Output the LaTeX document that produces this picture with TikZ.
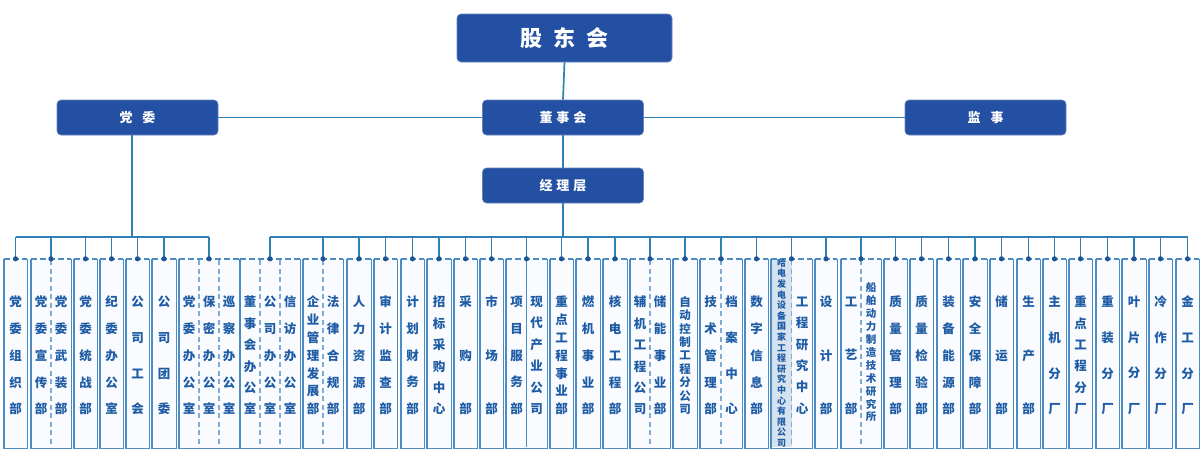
\documentclass[tikz,border=0pt]{standalone}
\usepackage{fontspec}
\setmainfont{Noto Sans CJK SC}
\definecolor{topblue}{RGB}{35,80,162}
\definecolor{linecol}{RGB}{48,128,182}
\definecolor{boxcol}{RGB}{74,140,195}
\definecolor{boxfill}{RGB}{249,251,254}
\definecolor{textcol}{RGB}{30,92,165}
\definecolor{dotcol}{RGB}{30,85,150}
\definecolor{divcol}{RGB}{125,172,215}
\definecolor{shadecol}{RGB}{214,226,238}
\newcommand\cbx[3]{%
  \node[cboxs, minimum width={(#3-#2)*1pt}] (#1) at ({(#2+#3)/2},353.5) {};
  \draw[edge] (#1.north west) -- (#1.south west) -- (#1.south east) -- (#1.north east);
  \draw[edge, dash pattern=on 6pt off 3pt] (#1.north west) -- (#1.north east);
}
\newcommand\drop[1]{%
  \draw[conn] (#1.north |- pbus) -- (#1.north);
  \fill[dotcol] (#1.north) circle (2.6pt);
}
\newcommand\vt[5][12.5]{%
  \pgfmathsetmacro\vsp{107/(#4-1)}%
  \node[ctext, font=\bfseries\fontsize{#1}{\vsp}\selectfont] (#2) at (#3,355.5) {#5};
}
\begin{document}
\begin{tikzpicture}[x=1pt,y=-1pt,
  topbox/.style={fill=topblue, draw=topblue!70!white, line width=0.6pt, rounded corners=4pt, text=white, inner sep=0pt, font=\bfseries\fontsize{13}{13}\selectfont},
  conn/.style={draw=linecol, line width=1.7pt},
  cboxs/.style={fill=boxfill, draw=none, minimum height=189pt, inner sep=0pt},
  edge/.style={draw=boxcol, line width=1.4pt},
  divd/.style={draw=divcol, line width=1.1pt, dash pattern=on 5pt off 3.5pt},
  divs/.style={draw=boxcol, line width=1.2pt},
  ctext/.style={text=textcol, align=center, inner sep=0pt}]
\useasboundingbox (0,0) rectangle (1200,472);
\fill[white] (0,0) rectangle (1200,472);

% top level
\node[topbox, minimum width=215pt, minimum height=48pt, font=\bfseries\fontsize{22}{22}\selectfont] (gd) at (564.5,38) {股\hspace{11pt}东\hspace{11pt}会};
\node[topbox, minimum width=161pt, minimum height=35pt] (dsh) at (563,117.5) {董\hspace{4pt}事\hspace{4pt}会};
\node[topbox, minimum width=161pt, minimum height=35pt] (dw) at (137.5,117.5) {党\hspace{10pt}委};
\node[topbox, minimum width=161pt, minimum height=35pt] (js) at (985.5,117.5) {监\hspace{10pt}事};
\node[topbox, minimum width=161pt, minimum height=35pt] (jlc) at (563,185.5) {经\hspace{4pt}理\hspace{4pt}层};

\coordinate (pbus) at (0,237);
\coordinate (pd) at (132,237);

\draw[conn] (gd.south) -- (dsh.north);
\draw[conn] (dw.east) -- (dsh.west);
\draw[conn] (dsh.east) -- (js.west);
\draw[conn] (dsh.south) -- (jlc.north);
\draw[conn] (dw.south -| pd) -- (pd);
\draw[conn] (jlc.south) -- (jlc.south |- pbus);

% columns
\cbx{b1}{4}{27}
\cbx{b2}{31}{71}
\cbx{b3}{74}{97}
\cbx{b4}{100}{123}
\cbx{b5}{126}{149}
\cbx{b6}{152}{176}
\cbx{b7}{179}{239}
\cbx{b8}{240}{300}
\cbx{b9}{303}{343}
\cbx{b10}{347}{371}
\cbx{b11}{374}{397}
\cbx{b12}{401}{424}
\cbx{b13}{427}{451}
\cbx{b14}{454}{477}
\cbx{b15}{480}{503}
\cbx{b16}{506}{547}
\cbx{b17}{550}{573}
\cbx{b18}{576}{600}
\cbx{b19}{603}{627}
\cbx{b20}{630}{670}
\cbx{b21}{673}{697}
\cbx{b22}{700}{742}
\cbx{b23}{745}{768}
\cbx{b24}{771}{812}
\cbx{b25}{815}{837}
\cbx{b26}{841}{881}
\cbx{b27}{884}{907}
\cbx{b28}{910}{933}
\cbx{b29}{937}{960}
\cbx{b30}{963}{987}
\cbx{b31}{990}{1013}
\cbx{b32}{1017}{1040}
\cbx{b33}{1043}{1066}
\cbx{b34}{1069}{1092}
\cbx{b35}{1096}{1119}
\cbx{b36}{1122}{1146}
\cbx{b37}{1149}{1172}
\cbx{b38}{1176}{1199}

% shading and dividers
\fill[shadecol] (771.8,260) rectangle (791.5,447.2);
\draw[divd] (51,260) -- (51,447);
\draw[divd] (199,260) -- (199,447);
\draw[divd] (219,260) -- (219,447);
\draw[divd] (260,260) -- (260,447);
\draw[divd] (280,260) -- (280,447);
\draw[divd] (323,260) -- (323,447);
\draw[divs] (526.5,260) -- (526.5,447);
\draw[divd] (650,260) -- (650,447);
\draw[divd] (721,260) -- (721,447);
\draw[divd] (791.5,260) -- (791.5,447);
\draw[divd] (861,260) -- (861,447);

% buses
\draw[conn] (b1.north |- pbus) -- (b7.north |- pbus);
\draw[conn] (b8.north |- pbus) -- (b38.north |- pbus);
\foreach \b in {b1,b2,b3,b4,b5,b6,b7,b8,b9,b10,b11,b12,b13,b14,b15,b16,b17,b18,b19,b20,b21,b22,b23,b24,b25,b26,b27,b28,b29,b30,b31,b32,b33,b34,b35,b36,b37,b38}{\drop{\b}}

% texts
\vt{t1}{15.5}{5}{党\\委\\组\\织\\部}
\vt{t2a}{41}{5}{党\\委\\宣\\传\\部}
\vt{t2b}{61}{5}{党\\委\\武\\装\\部}
\vt{t3}{85.5}{5}{党\\委\\统\\战\\部}
\vt{t4}{111.5}{5}{纪\\委\\办\\公\\室}
\vt{t5}{137.5}{4}{公\\司\\工\\会}
\vt{t6}{164}{4}{公\\司\\团\\委}
\vt{t7a}{189}{5}{党\\委\\办\\公\\室}
\vt{t7b}{209}{5}{保\\密\\办\\公\\室}
\vt{t7c}{229}{5}{巡\\察\\办\\公\\室}
\vt{t8a}{250}{6}{董\\事\\会\\办\\公\\室}
\vt{t8b}{270}{5}{公\\司\\办\\公\\室}
\vt{t8c}{290}{5}{信\\访\\办\\公\\室}
\vt{t9a}{313}{7}{企\\业\\管\\理\\发\\展\\部}
\vt{t9b}{333}{5}{法\\律\\合\\规\\部}
\vt{t10}{359}{5}{人\\力\\资\\源\\部}
\vt{t11}{385.5}{5}{审\\计\\监\\查\\部}
\vt{t12}{412.5}{5}{计\\划\\财\\务\\部}
\vt{t13}{439}{6}{招\\标\\采\\购\\中\\心}
\vt{t14}{465.5}{3}{采\\购\\部}
\vt{t15}{491.5}{3}{市\\场\\部}
\vt{t16a}{516.5}{5}{项\\目\\服\\务\\部}
\vt{t16b}{536.5}{6}{现\\代\\产\\业\\公\\司}
\vt{t17}{561.5}{7}{重\\点\\工\\程\\事\\业\\部}
\vt{t18}{588}{5}{燃\\机\\事\\业\\部}
\vt{t19}{615}{5}{核\\电\\工\\程\\部}
\vt{t20a}{640}{6}{辅\\机\\工\\程\\公\\司}
\vt{t20b}{660}{5}{储\\能\\事\\业\\部}
\vt[11.5]{t21}{685}{9}{自\\动\\控\\制\\工\\程\\分\\公\\司}
\vt{t22a}{710.5}{5}{技\\术\\管\\理\\部}
\vt{t22b}{731.5}{4}{档\\案\\中\\心}
\vt{t23}{756.5}{5}{数\\字\\信\\息\\部}
\node[ctext, font=\bfseries\fontsize{9}{10.6}\selectfont] (t24a) at (781.5,353) {哈\\电\\发\\电\\设\\备\\国\\家\\工\\程\\研\\究\\中\\心\\有\\限\\公\\司};
\vt{t24b}{802}{6}{工\\程\\研\\究\\中\\心}
\vt{t25}{826}{3}{设\\计\\部}
\vt{t26a}{851}{3}{工\\艺\\部}
\node[ctext, font=\bfseries\fontsize{10.5}{12.9}\selectfont] (t26b) at (871,352.5) {船\\舶\\动\\力\\制\\造\\技\\术\\研\\究\\所};
\vt{t27}{895.5}{5}{质\\量\\管\\理\\部}
\vt{t28}{921.5}{5}{质\\量\\检\\验\\部}
\vt{t29}{948.5}{5}{装\\备\\能\\源\\部}
\vt{t30}{975}{5}{安\\全\\保\\障\\部}
\vt{t31}{1001.5}{3}{储\\运\\部}
\vt{t32}{1028.5}{3}{生\\产\\部}
\vt{t33}{1054.5}{4}{主\\机\\分\\厂}
\vt{t34}{1080.5}{6}{重\\点\\工\\程\\分\\厂}
\vt{t35}{1107.5}{4}{重\\装\\分\\厂}
\vt{t36}{1134}{4}{叶\\片\\分\\厂}
\vt{t37}{1160.5}{4}{冷\\作\\分\\厂}
\vt{t38}{1187.5}{4}{金\\工\\分\\厂}
\end{tikzpicture}
\end{document}
